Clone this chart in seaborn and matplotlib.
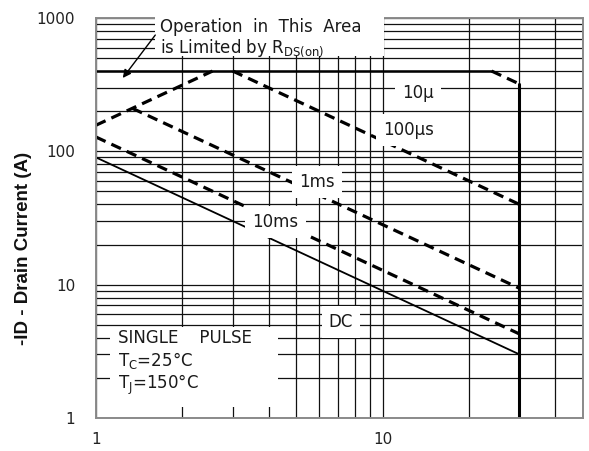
import numpy as np
import matplotlib
matplotlib.use("Agg")
import matplotlib.pyplot as plt
import seaborn as sns
from matplotlib.ticker import FixedLocator, LogLocator, NullFormatter, FixedFormatter
from matplotlib.patches import Rectangle

# Safe operating area limits: -VDS (V) vs -ID (A)
dc_vds = [1, 30]
dc_id = [90, 3.0]
ms10_vds = [1, 30]
ms10_id = [128, 4.27]
ms1_vds = [1.34, 30]
ms1_id = [210, 9.4]
us100_vds = [3, 30]
us100_id = [400, 40]
rds_vds = [1, 2.55]
rds_id = [157, 400]
us10_flat_vds = [1, 24]
us10_flat_id = [400, 400]
us10_vds = [24, 30]
us10_id = [400, 320]
vmax_vds = [30, 30]
vmax_id = [320, 1]

x_ticks = [1, 10]
x_tick_labels = ["1", "10"]
y_ticks = [1, 10, 100, 1000]
y_tick_labels = ["1", "10", "100", "1000"]

sns.set_theme(style="white")
plt.rcParams["font.family"] = ["DejaVu Sans"]

W, H = 589, 451
fig = plt.figure(figsize=(W / 100, H / 100), dpi=100)
ax = fig.add_axes([96 / W, 1 - 418 / H, 487 / W, 400 / H])
ax.set_xscale("log")
ax.set_yscale("log")
ax.set_xlim(1, 50)
ax.set_ylim(1, 1000)

ax.xaxis.set_major_locator(FixedLocator(x_ticks))
ax.xaxis.set_major_formatter(FixedFormatter(x_tick_labels))
ax.yaxis.set_major_locator(FixedLocator(y_ticks))
ax.yaxis.set_major_formatter(FixedFormatter(y_tick_labels))
for axis in (ax.xaxis, ax.yaxis):
    axis.set_minor_locator(LogLocator(base=10, subs=np.arange(2, 10), numticks=20))
    axis.set_minor_formatter(NullFormatter())
ax.tick_params(which="both", length=0, labelsize=11, colors="#222222")
ax.tick_params(axis="x", pad=10)
ax.tick_params(axis="y", pad=15)
ax.grid(True, which="both", color="#111111", lw=0.9)
ax.set_axisbelow(True)
for sp in ax.spines.values():
    sp.set_color("#8a8a8a")
    sp.set_linewidth(1.4)

dash = (0, (3.3, 2.0))
solid_kw = dict(ax=ax, color="black", sort=False, estimator=None, legend=False)

# Pulse-width limit lines
sns.lineplot(x=dc_vds, y=dc_id, lw=1.3, **solid_kw)
sns.lineplot(x=ms10_vds, y=ms10_id, lw=2.3, linestyle=dash, **solid_kw)
sns.lineplot(x=ms1_vds, y=ms1_id, lw=2.3, linestyle=dash, **solid_kw)
sns.lineplot(x=us100_vds, y=us100_id, lw=2.3, linestyle=dash, **solid_kw)
sns.lineplot(x=rds_vds, y=rds_id, lw=2.3, linestyle=dash, **solid_kw)
sns.lineplot(x=us10_flat_vds, y=us10_flat_id, lw=1.8, **solid_kw)
sns.lineplot(x=us10_vds, y=us10_id, lw=2.3, linestyle=dash, **solid_kw)
sns.lineplot(x=vmax_vds, y=vmax_id, lw=2.2, **solid_kw)

# White panels behind the annotation blocks
ax.add_patch(Rectangle((1.6, 520), 10.15 - 1.6, 1060 - 520, fc="white", ec="none",
                       zorder=4, clip_on=False))
ax.add_patch(Rectangle((1.12, 1.21), 4.33 - 1.12, 4.81 - 1.21, fc="white", ec="none",
                       zorder=4))

ax.text(1.67, 705, "Operation  in  This  Area\nis Limited by R$_\\mathregular{DS(on)}$",
        ha="left", va="center", fontsize=12, linespacing=1.1, color="#1a1a1a", zorder=6)
ax.annotate("", xy=(1.24, 355), xytext=(1.61, 745),
            arrowprops=dict(arrowstyle="-|>", color="black", lw=1.0,
                            mutation_scale=12, shrinkA=0, shrinkB=0), zorder=6)

ax.text(1.19, 2.58, "SINGLE    PULSE\nT$_\\mathregular{C}$=25°C\nT$_\\mathregular{J}$=150°C",
        ha="left", va="center", fontsize=12, linespacing=1.15, color="#1a1a1a", zorder=6)

box = dict(boxstyle="square,pad=0.42", fc="white", ec="none")
for xv, yv, s in [(13.3, 274, "10µ"), (12.3, 145, "100µs"), (5.9, 58.9, "1ms"),
                  (4.23, 29.5, "10ms"), (7.16, 5.25, "DC")]:
    ax.text(xv, yv, s, ha="center", va="center", fontsize=12, color="#1a1a1a",
            bbox=box, zorder=6)

fig.text(24 / W, 1 - 248 / H, "-ID - Drain Current (A)", rotation=90, ha="center",
         va="center", fontsize=13.5, fontweight="bold", family=["Liberation Sans"],
         color="#111111")

fig.savefig("out.png", dpi=100, facecolor="white")
